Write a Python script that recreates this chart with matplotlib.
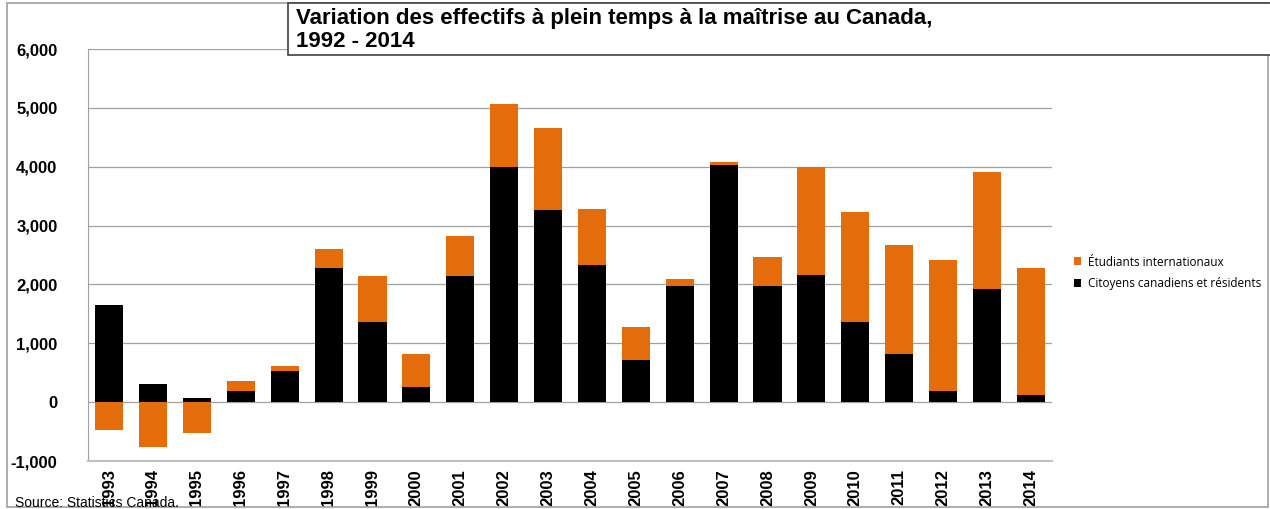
import matplotlib.pyplot as plt
from matplotlib.patches import Rectangle
from matplotlib.ticker import FuncFormatter

years = [str(y) for y in range(1993, 2015)]
citoyens = [1650, 310, 65, 190, 525, 2275, 1360, 255, 2140, 3990, 3260,
            2325, 713, 1970, 4025, 1970, 2155, 1360, 815, 190, 1920, 120]
internationaux = [-475, -760, -530, 167, 85, 325, 780, 560, 680, 1070, 1390,
                  965, 562, 120, 50, 490, 1835, 1865, 1850, 2220, 1985, 2155]

orange = '#E46C0A'
W, H = 1270, 509

fig = plt.figure(figsize=(W / 100, H / 100), dpi=100)
ax = fig.add_axes([88 / W, 1 - 461 / H, (1052 - 88) / W, (461 - 49) / H])

x = list(range(len(years)))
ax.bar(x, citoyens, width=0.64, color='black', label='Citoyens canadiens et résidents', zorder=3)
bottoms = [c if i > 0 else 0 for c, i in zip(citoyens, internationaux)]
ax.bar(x, internationaux, width=0.64, bottom=bottoms, color=orange,
       label='Étudiants internationaux', zorder=3)

ax.set_ylim(-1000, 6000)
ax.set_xlim(-0.48, 21.48)
ax.set_yticks(range(-1000, 6001, 1000))
ax.yaxis.set_major_formatter(FuncFormatter(lambda v, p: f'{int(v):,}'))
ax.set_xticks(x)
ax.set_xticklabels(years, rotation=90)
ax.grid(axis='y', color='#a0a0a0', linewidth=0.9, zorder=0)
ax.tick_params(length=0)
ax.tick_params(axis='y', pad=22)
ax.tick_params(axis='x', pad=6)
for lab in ax.get_xticklabels() + ax.get_yticklabels():
    lab.set_fontfamily('Liberation Sans')
    lab.set_fontweight('bold')
    lab.set_fontsize(12)
for s in ['top', 'right']:
    ax.spines[s].set_visible(False)
ax.spines['left'].set_color('#a0a0a0')
ax.spines['bottom'].set_color('#c0c0c0')
ax.spines['bottom'].set_linewidth(1.5)

h, l = ax.get_legend_handles_labels()
fig.legend(h[::-1], l[::-1], loc='center left', bbox_to_anchor=(1063 / W, 1 - 273 / H),
           frameon=False, prop={'family': 'Open Sans', 'size': 8.5},
           handlelength=0.65, handleheight=0.65, labelspacing=0.75, handletextpad=0.6)

# outer frame and title box
fig.patches.append(Rectangle((7 / W, 1 - 507 / H), (W - 9) / W, 504 / H,
                             transform=fig.transFigure, fill=False,
                             edgecolor='#a0a0a0', linewidth=1.2))
fig.patches.append(Rectangle((288 / W, 1 - 55 / H), (W - 288 + 5) / W, 52 / H,
                             transform=fig.transFigure, facecolor='white',
                             edgecolor='#404040', linewidth=1.2, zorder=5))
fig.text(296 / W, 1 - 30 / H, 'Variation des effectifs à plein temps à la maîtrise au Canada,\n1992 - 2014',
         ha='left', va='center', fontsize=16, fontweight='bold',
         family='Liberation Sans', linespacing=1.15, zorder=6)
fig.text(15 / W, 1 - 507 / H, 'Source: Statistics Canada.', ha='left', va='baseline',
         fontsize=10, family='Liberation Sans')

fig.savefig('out.png', dpi=100)
